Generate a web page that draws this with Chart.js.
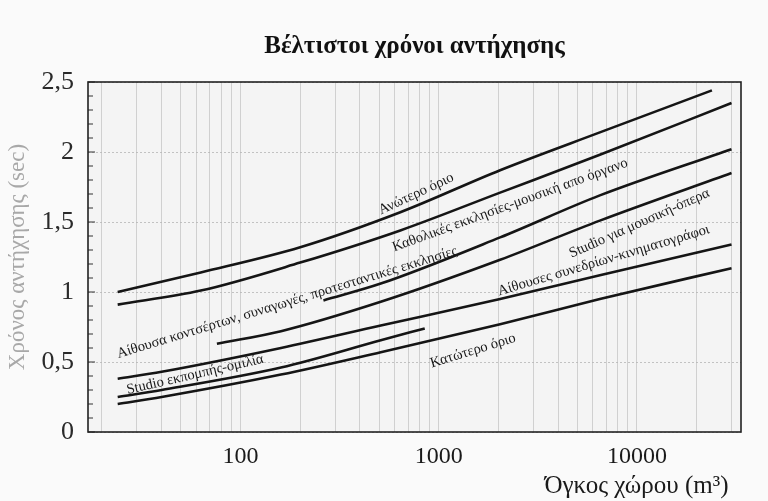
<!DOCTYPE html>
<html lang="el">
<head>
<meta charset="UTF-8">
<title>Βέλτιστοι χρόνοι αντήχησης</title>
<script src="https://cdn.jsdelivr.net/npm/chart.js@4.4.0/dist/chart.umd.min.js"></script>
<style>
  html, body { margin: 0; padding: 0; background: #fafafa; }
</style>
</head>
<body>
<canvas id="canvas"></canvas>
<script>
    // volume of the room (m3) and reverberation time (sec)
    const upperVol = [24, 63, 200, 640, 2040, 6500, 23900];
    const upperTime = [1.00, 1.14, 1.32, 1.57, 1.87, 2.14, 2.44];

    const concertVol = [24, 63, 200, 640, 2040, 6500, 30000];
    const concertTime = [0.91, 1.01, 1.21, 1.44, 1.71, 1.98, 2.35];

    const catholicVol = [262, 510, 2040, 6500, 30000];
    const catholicTime = [0.94, 1.06, 1.39, 1.69, 2.02];

    const operaVol = [76, 160, 510, 2040, 6500, 30000];
    const operaTime = [0.63, 0.72, 0.93, 1.23, 1.51, 1.85];

    const conferenceVol = [24, 40, 160, 510, 2040, 6500, 30000];
    const conferenceTime = [0.38, 0.43, 0.60, 0.76, 0.95, 1.12, 1.34];

    const speechVol = [24, 40, 160, 510, 850];
    const speechTime = [0.25, 0.30, 0.46, 0.655, 0.74];

    const lowerVol = [24, 40, 160, 510, 2040, 6500, 30000];
    const lowerTime = [0.20, 0.25, 0.41, 0.57, 0.77, 0.95, 1.17];

    const xTickLabels = [100, 1000, 10000];
    const yTickLabels = [0, 0.5, 1, 1.5, 2, 2.5];

    // text written along the curves: [text, volume, time, angle]
    const curveLabels = [
        ["Ανώτερο όριο", 770, 1.70, -25],
        ["Αίθουσα κοντσέρτων, συναγωγές, προτεσταντικές εκκλησίες", 172, 0.925, -17],
        ["Καθολικές εκκλησίες-μουσική απο όργανο", 2290, 1.62, -20],
        ["Studio για μουσική-όπερα", 10300, 1.49, -24],
        ["Αίθουσες συνεδρίων-κινηματογράφοι", 6800, 1.225, -16.5],
        ["Studio εκπομπής-ομιλία", 59, 0.41, -13],
        ["Κατώτερο όριο", 1490, 0.58, -17]
    ];

    const serif = '"Liberation Serif", "DejaVu Serif", serif';

    function toPoints(xs, ys) {
        return xs.map((x, i) => ({ x: x, y: ys[i] }));
    }

    function curve(xs, ys) {
        return {
            data: toPoints(xs, ys),
            borderColor: "#151515",
            borderWidth: 2.6,
            pointRadius: 0,
            fill: false,
            cubicInterpolationMode: "monotone"
        };
    }

    const gridVolumes = [];
    for (let decade = 10; decade <= 10000; decade *= 10) {
        for (let m = 1; m <= 9; m++) {
            const v = decade * m;
            if (v >= 17 && v <= 33500) gridVolumes.push(v);
        }
    }

    const isHalf = (v) => Math.abs(v * 2 - Math.round(v * 2)) < 1e-6;

    const paperPlugin = {
        id: "paper",
        beforeDraw(chart) {
            const c = chart.ctx, a = chart.chartArea;
            c.save();
            c.fillStyle = "#fafafa";
            c.fillRect(0, 0, chart.width, chart.height);
            c.fillStyle = "#f4f4f4";
            c.fillRect(a.left, a.top, a.right - a.left, a.bottom - a.top);
            c.restore();
        },
        afterDatasetsDraw(chart) {
            const c = chart.ctx, a = chart.chartArea;
            const xs = chart.scales.x, ys = chart.scales.y;

            // small inner tick marks on the time axis
            c.save();
            c.strokeStyle = "#333";
            c.lineWidth = 1;
            ys.ticks.forEach((t) => {
                const py = ys.getPixelForValue(t.value);
                c.beginPath();
                c.moveTo(a.left, py);
                c.lineTo(a.left + (isHalf(t.value) ? 7 : 5), py);
                c.stroke();
            });
            c.restore();

            // labels along the curves
            c.save();
            c.fillStyle = "#1a1a1a";
            c.font = "14.5px " + serif;
            c.textAlign = "center";
            c.textBaseline = "middle";
            curveLabels.forEach(([text, vol, time, angle]) => {
                c.save();
                c.translate(xs.getPixelForValue(vol), ys.getPixelForValue(time));
                c.rotate(angle * Math.PI / 180);
                c.fillText(text, 0, 0);
                c.restore();
            });
            c.restore();

            // frame
            c.save();
            c.strokeStyle = "#222";
            c.lineWidth = 1.6;
            c.strokeRect(a.left, a.top, a.right - a.left, a.bottom - a.top);
            c.restore();
        }
    };

    const canvas = document.getElementById("canvas");
    canvas.width = 768;
    canvas.height = 501;

    new Chart(canvas, {
        type: "line",
        data: {
            datasets: [
                curve(upperVol, upperTime),
                curve(concertVol, concertTime),
                curve(catholicVol, catholicTime),
                curve(operaVol, operaTime),
                curve(conferenceVol, conferenceTime),
                curve(speechVol, speechTime),
                curve(lowerVol, lowerTime)
            ]
        },
        options: {
            responsive: false,
            animation: false,
            layout: { padding: { right: 27 } },
            plugins: {
                legend: { display: false },
                tooltip: { enabled: false },
                title: {
                    display: true,
                    fullSize: false,
                    text: "Βέλτιστοι χρόνοι αντήχησης",
                    color: "#111",
                    font: { family: serif, size: 25, weight: "bold" },
                    padding: { top: 32, bottom: 20 }
                }
            },
            scales: {
                x: {
                    type: "logarithmic",
                    min: 17,
                    max: 33500,
                    afterBuildTicks: (scale) => {
                        scale.ticks = gridVolumes.map((v) => ({ value: v }));
                    },
                    afterFit: (scale) => { scale.height = 69; },
                    grid: { color: "#c6c6c6", lineWidth: 0.8, drawTicks: false },
                    border: { display: false },
                    ticks: {
                        autoSkip: false,
                        maxRotation: 0,
                        padding: 10,
                        color: "#1a1a1a",
                        font: { family: serif, size: 24 },
                        callback: (v) => xTickLabels.includes(v) ? String(v) : ""
                    },
                    title: {
                        display: true,
                        align: "end",
                        text: "Όγκος χώρου (m³)  ",
                        color: "#1a1a1a",
                        font: { family: serif, size: 25 },
                        padding: { top: 0, bottom: 0 }
                    }
                },
                y: {
                    min: 0,
                    max: 2.5,
                    afterFit: (scale) => { scale.width = 88; },
                    grid: {
                        color: (ctx) => (ctx.tick && isHalf(ctx.tick.value)) ? "#b5b5b5" : "rgba(0,0,0,0)",
                        lineWidth: 0.8,
                        drawTicks: false
                    },
                    border: { display: false, dash: [2, 2] },
                    ticks: {
                        stepSize: 0.1,
                        autoSkip: false,
                        padding: 14,
                        color: "#2a2a2a",
                        font: { family: serif, size: 26 },
                        callback: (v) => {
                            const hit = yTickLabels.find((t) => Math.abs(t - v) < 1e-6);
                            return hit === undefined ? "" : String(hit).replace(".", ",");
                        }
                    },
                    title: {
                        display: true,
                        text: "Χρόνος αντήχησης (sec)",
                        color: "#a8a8a8",
                        font: { family: serif, size: 23 },
                        padding: { top: 4, bottom: 0 }
                    }
                }
            }
        },
        plugins: [paperPlugin]
    });
</script>
</body>
</html>
